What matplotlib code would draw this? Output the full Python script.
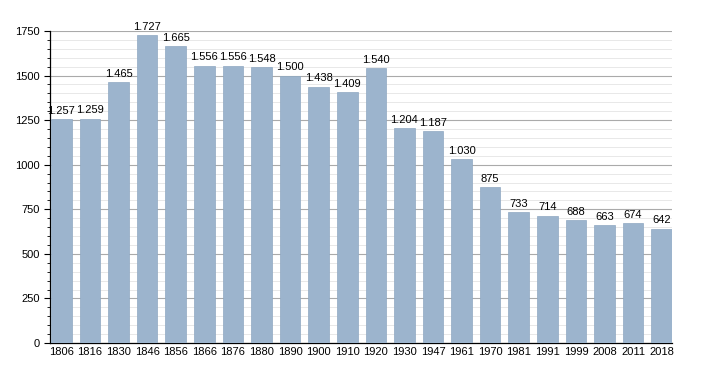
import matplotlib.pyplot as plt
from matplotlib.ticker import MultipleLocator

plt.rcParams['font.family'] = ['Liberation Sans', 'DejaVu Sans']

years = ['1806', '1816', '1830', '1846', '1856', '1866', '1876', '1880', '1890', '1900', '1910',
         '1920', '1930', '1947', '1961', '1970', '1981', '1991', '1999', '2008', '2011', '2018']
population = [1257, 1259, 1465, 1727, 1665, 1556, 1556, 1548, 1500, 1438, 1409,
              1540, 1204, 1187, 1030, 875, 733, 714, 688, 663, 674, 642]

fig = plt.figure(figsize=(7.01, 3.73), dpi=100)
ax = fig.add_axes([50 / 701, 1 - 343 / 373, 622 / 701, 312 / 373])

x = list(range(len(years)))
ax.bar(x, population, width=0.72, color='#9cb4cd', edgecolor='#8fa8c2', linewidth=0.5, zorder=3)

for xi, v in zip(x, population):
    lbl = f'{v:,}'.replace(',', '.')
    ax.text(xi, v + 18, lbl, ha='center', va='bottom', fontsize=8, clip_on=False, zorder=4)

ax.set_xlim(-0.40, len(years) - 1 + 0.36)
ax.set_ylim(0, 1750)
ax.set_xticks(x)
ax.set_xticklabels(years, fontsize=8)
ax.yaxis.set_major_locator(MultipleLocator(250))
ax.yaxis.set_minor_locator(MultipleLocator(50))
ax.tick_params(axis='y', labelsize=8, length=4, width=0.8)
ax.tick_params(axis='y', which='minor', length=2.5, width=0.6)
ax.tick_params(axis='x', length=0, pad=3)

ax.grid(axis='y', which='major', color='#aaaaaa', linewidth=0.8, zorder=0)
ax.grid(axis='y', which='minor', color='#e4e4e4', linewidth=0.6, zorder=0)
ax.set_axisbelow(True)

for s in ['top', 'right']:
    ax.spines[s].set_visible(False)
ax.spines['left'].set_linewidth(0.9)
ax.spines['bottom'].set_linewidth(0.9)

fig.savefig('out.png', dpi=100)
